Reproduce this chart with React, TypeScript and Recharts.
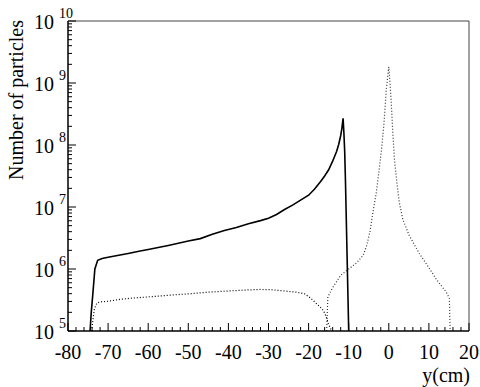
import { LineChart, Line, XAxis, YAxis, ReferenceLine } from 'recharts'

// solid histogram (beam on the left side)
const solidX = [-74.5, -74.2, -73.8, -73.3, -72.6, -71.5, -70, -68, -65, -62, -60, -55, -50, -47, -44, -41, -38, -35, -32, -30, -28, -26, -24, -22, -20, -18.5, -17, -16, -15, -14, -13.5, -13, -12.5, -12, -11.7, -11.4, -11.2, -11.0, -10.8, -10.6, -10.4, -10.2, -10.0]
const solidN = [1e5, 2.0e5, 4.0e5, 1.0e6, 1.38e6, 1.48e6, 1.55e6, 1.64e6, 1.78e6, 1.95e6, 2.06e6, 2.4e6, 2.82e6, 3.09e6, 3.63e6, 4.17e6, 4.68e6, 5.37e6, 6.03e6, 6.61e6, 7.59e6, 9.12e6, 1.07e7, 1.29e7, 1.55e7, 1.95e7, 2.57e7, 3.16e7, 3.98e7, 5.5e7, 6.6e7, 7.9e7, 1.02e8, 1.41e8, 1.86e8, 2.69e8, 1.58e8, 7.9e7, 2.5e7, 6.3e6, 1.6e6, 4e5, 1e5]

// dotted plateau
const plateauX = [-74.1, -73.8, -73.4, -72.8, -72, -70, -67, -64, -60, -56, -52, -48, -44, -40, -36, -32, -29, -26, -23, -21, -19.5, -18, -17, -16.3, -15.6, -15.1, -14.6, -14.2]
const plateauN = [1e5, 1.48e5, 2.29e5, 2.82e5, 2.95e5, 3.02e5, 3.24e5, 3.39e5, 3.55e5, 3.72e5, 3.89e5, 4.07e5, 4.27e5, 4.42e5, 4.57e5, 4.68e5, 4.62e5, 4.42e5, 4.22e5, 3.98e5, 3.39e5, 2.75e5, 2.4e5, 2.14e5, 1.7e5, 1.32e5, 1.12e5, 1e5]

// dotted peak around y = 0
const peakX = [-15.5, -15.2, -14, -12, -10, -8, -6.4, -5.5, -4.7, -4, -3.1, -2.4, -1.8, -1.2, -0.6, -0.2, 0, 0.3, 0.6, 1, 1.4, 2, 2.6, 3.5, 5.1, 7.6, 10.1, 12, 14.3, 15.1, 15.3]
const peakN = [1e5, 3.55e5, 5.0e5, 7.9e5, 1.0e6, 1.26e6, 1.66e6, 2.4e6, 4.0e6, 7.9e6, 1.74e7, 4.0e7, 8.7e7, 2.24e8, 8.1e8, 1.41e9, 1.82e9, 1.0e9, 5.0e8, 1.58e8, 6.0e7, 2.5e7, 1.2e7, 6.3e6, 3.47e6, 1.78e6, 1.02e6, 6.6e5, 4.27e5, 3.39e5, 1e5]

const xLabels = [-80, -70, -60, -50, -40, -30, -20, -10, 0, 10, 20]
const yDecades = [5, 6, 7, 8, 9, 10]

const xTicks: number[] = []
for (let v = -80; v <= 20; v += 2) xTicks.push(v)
const yTicks: number[] = []
yDecades.forEach((e) => {
  if (e === 10) { yTicks.push(1e10); return }
  for (let m = 1; m <= 9; m++) yTicks.push(m * Math.pow(10, e))
})

const toRows = (xs: number[], ys: number[]) => xs.map((x, i) => ({ x, n: ys[i] }))
const solidData = toRows(solidX, solidN)
const plateauData = toRows(plateauX, plateauN)
const peakData = toRows(peakX, peakN)

const FONT = '"Liberation Serif", "Times New Roman", serif'
const serif = (size: number) => ({ fontFamily: FONT, fontSize: size })

const XTick = ({ x, y, payload }: any) => {
  const v = payload.value
  const major = xLabels.includes(v)
  return (
    <g>
      <line x1={x} x2={x} y1={y} y2={y - (major ? 8 : 4)} stroke="#000" strokeWidth={1} />
      {major && (
        <text x={x} y={y + 21} textAnchor="middle" dominantBaseline="central" fontFamily={FONT} style={serif(20)} fill="#000">
          {v}
        </text>
      )}
    </g>
  )
}

const YTick = ({ x, y, payload }: any) => {
  const v = payload.value
  const e = Math.round(Math.log10(v))
  const major = Math.abs(v - Math.pow(10, e)) < 1e-6 * v
  return (
    <g>
      <line x1={x} x2={x + (major ? 8 : 4)} y1={y} y2={y} stroke="#000" strokeWidth={1} />
      {major && (
        <g fill="#000" fontFamily={FONT}>
          <text x={54} y={y + 1} textAnchor="end" dominantBaseline="central" style={serif(20)}>10</text>
          <text x={59} y={y - 8} textAnchor="start" dominantBaseline="central" style={serif(14)}>{e}</text>
        </g>
      )}
    </g>
  )
}

export default function App() {
  return (
    <div style={{ position: 'absolute', left: 0, top: 0, width: 480, height: 387, background: '#fff' }}>
      <LineChart width={480} height={387} margin={{ top: 21, right: 11, bottom: 26, left: 0 }}>
        <XAxis
          type="number"
          dataKey="x"
          domain={[-80, 20]}
          ticks={xTicks}
          interval={0}
          tickSize={0}
          tickMargin={0}
          tickLine={false}
          tick={<XTick />}
          height={30}
          allowDataOverflow
          axisLine={{ stroke: '#000', strokeWidth: 1.5 }}
        />
        <YAxis
          type="number"
          scale="log"
          domain={[1e5, 1e10]}
          ticks={yTicks}
          interval={0}
          tickSize={0}
          tickMargin={0}
          tickLine={false}
          tick={<YTick />}
          width={68}
          allowDataOverflow
          axisLine={{ stroke: '#000', strokeWidth: 1.5 }}
        />
        <ReferenceLine y={1e10} stroke="#444" strokeWidth={1} />
        <ReferenceLine x={20} stroke="#444" strokeWidth={1} />
        <Line data={plateauData} dataKey="n" type="linear" stroke="#000" strokeWidth={1.2} strokeDasharray="1 2" dot={false} isAnimationActive={false} />
        <Line data={peakData} dataKey="n" type="linear" stroke="#333" strokeWidth={1.2} strokeDasharray="1 2" dot={false} isAnimationActive={false} />
        <Line data={solidData} dataKey="n" type="linear" stroke="#000" strokeWidth={1.6} dot={false} isAnimationActive={false} />
      </LineChart>
      <svg width={480} height={387} style={{ position: 'absolute', left: 0, top: 0, pointerEvents: 'none' }}>
        <text transform="translate(23, 20) rotate(-90)" textAnchor="end" style={serif(20)} fill="#000">
          Number of particles
        </text>
        <text x={470} y={382} textAnchor="end" style={serif(20)} fill="#000">
          y(cm)
        </text>
      </svg>
    </div>
  )
}
